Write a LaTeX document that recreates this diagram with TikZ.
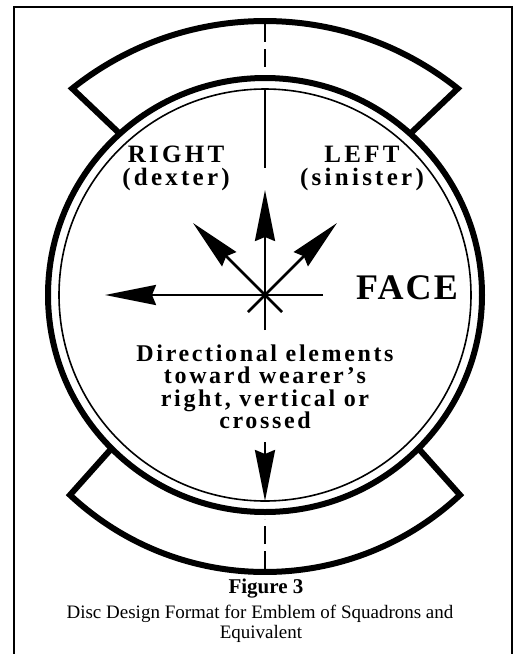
\documentclass[tikz,border=0pt]{standalone}
\usepackage{fontspec}
\setmainfont{Liberation Serif}
\newfontfamily\lblfont[LetterSpace=13]{Liberation Serif}
\newfontfamily\facefont[LetterSpace=6]{Liberation Serif}
\newfontfamily\blockfont[LetterSpace=11]{Liberation Serif}
\usetikzlibrary{arrows.meta,calc}
\begin{document}
\begin{tikzpicture}[x=1pt,y=-1pt,
  frame/.style={line width=2pt},
  band/.style={line width=6pt, line join=miter},
  thinring/.style={line width=1.6pt},
  axis/.style={line width=1.5pt},
  dashaxis/.style={line width=1.5pt, dash pattern=on 18pt off 7pt},
  shaft/.style={line width=2.5pt, -{Stealth[length=51pt,width=20pt,inset=4pt]}},
  tail/.style={line width=2.5pt},
  lbl/.style={inner sep=0pt, anchor=base, font=\lblfont\bfseries\fontsize{25}{25}\selectfont},
  facelbl/.style={inner sep=0pt, anchor=base, font=\facefont\bfseries\fontsize{36}{36}\selectfont},
  blk/.style={inner sep=0pt, anchor=base, font=\blockfont\bfseries\fontsize{24}{24}\selectfont},
  captxt/.style={inner sep=0pt, anchor=base, font=\fontsize{19}{19}\selectfont},
  captitle/.style={inner sep=0pt, anchor=base, font=\bfseries\fontsize{21}{21}\selectfont}
]
\useasboundingbox (0,0) rectangle (522,654);
\fill[white] (0,0) rectangle (522,654);
\draw[frame] (14,656) -- (14,7) -- (512,7) -- (512,656);

\coordinate (C) at (265,295);
\coordinate (TC) at (265,330);
\coordinate (BC) at (265,286.6);

% top panel
\draw[band] ($(C)+(-132:217)$) -- ($(TC)+(-128.6:309)$)
  arc[start angle=-128.6, end angle=-51.4, radius=309] -- ($(C)+(-48:217)$);
% bottom panel
\draw[band] ($(C)+(135:217)$) -- ($(BC)+(133.1:285.4)$)
  arc[start angle=133.1, end angle=46.9, radius=285.4] -- ($(C)+(45:217)$);

% disc
\draw[band, fill=white] (C) circle[radius=217];
\draw[thinring] (C) circle[radius=206];

% axis lines
\coordinate (ta) at (265,24);
\coordinate (tb) at (265,72);
\coordinate (tc) at (265,89);
\coordinate (td) at (265,168);
\coordinate (ba) at (265,569);
\coordinate (bb) at (265,519);
\draw[dashaxis] (ta) -- (tb);
\draw[axis] (tc) -- (td);
\draw[dashaxis] (ba) -- (bb);

% arrows
\coordinate (up) at (265,190);
\coordinate (ul) at (193,223);
\coordinate (ur) at (337,223);
\coordinate (lf) at (105,295);
\coordinate (rt) at (323,295);
\coordinate (dn) at (265,330);
\coordinate (dl) at (248,312);
\coordinate (dr) at (282,312);
\draw[tail] (rt) -- (C);
\draw[tail] (dn) -- (C);
\draw[tail] (dl) -- (C);
\draw[tail] (dr) -- (C);
\draw[shaft] (C) -- (up);
\draw[shaft] (C) -- (ul);
\draw[shaft] (C) -- (ur);
\draw[shaft] (C) -- (lf);
\coordinate (da) at (265,442);
\coordinate (db) at (265,501);
\draw[shaft] (da) -- (db);

% labels
\node[lbl] (right) at (176,162) {RIGHT};
\node[lbl] (dexter) at (176,185) {(dexter)};
\node[lbl] (left) at (362,162) {LEFT};
\node[lbl] (sinister) at (362,185) {(sinister)};
\node[facelbl] (face) at (407,299) {FACE};
\node[blk] (b1) at (265,361) {Directional elements};
\node[blk] (b2) at (265,383) {toward wearer’s};
\node[blk] (b3) at (265,406) {right, vertical or};
\node[blk] (b4) at (265,428) {crossed};

% caption
\node[captitle] (fig) at (266,593) {Figure 3};
\node[captxt] (c1) at (260,618) {Disc Design Format for Emblem of Squadrons and};
\node[captxt] (c2) at (261,638) {Equivalent};
\end{tikzpicture}
\end{document}
